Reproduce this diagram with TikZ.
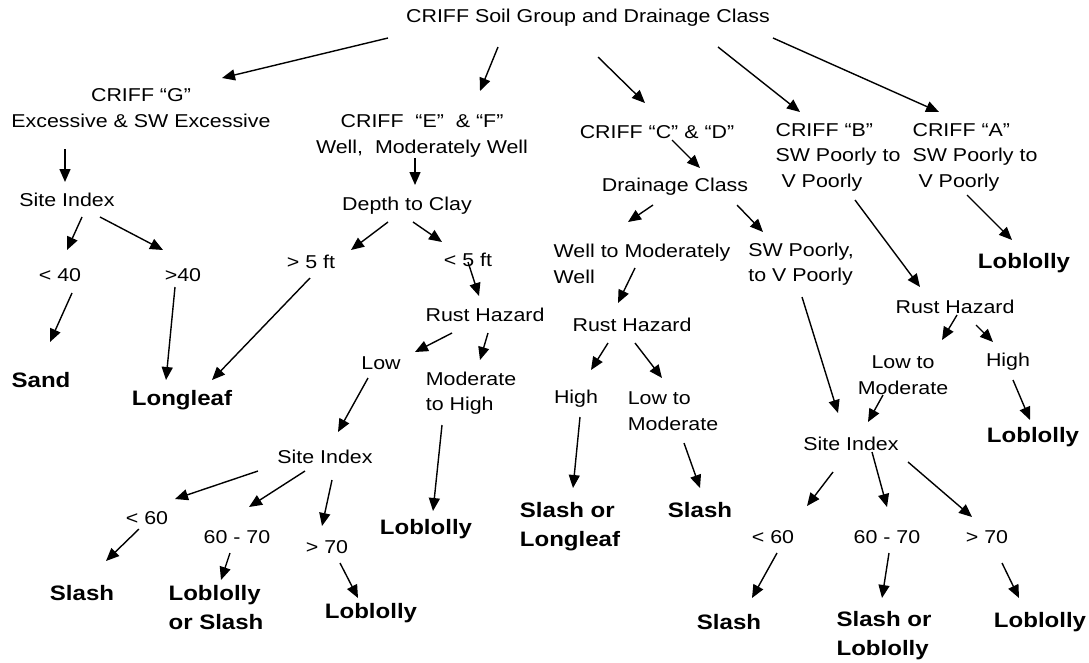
\documentclass[tikz,border=0pt]{standalone}
\usepackage{fontspec}
\setmainfont{Liberation Sans}[FakeStretch=1.15]
\usetikzlibrary{arrows.meta}

\begin{document}
\begin{tikzpicture}[x=1pt, y=-1pt,
    lbl/.style={inner sep=0pt, font=\fontsize{18.6}{25.5}\selectfont},
    res/.style={inner sep=0pt, font=\fontsize{20.9}{29}\selectfont\bfseries},
    arr/.style={-{Triangle[length=13pt,width=11pt]}, line width=1.4pt}]

        \useasboundingbox (0,0) rectangle (1089,662);

        \node[lbl] (root) at (588,18) {CRIFF Soil Group and Drainage Class};
        \node[lbl, align=center] (G) at (141,108) {CRIFF “G”\\Excessive \& SW Excessive};
        \node[lbl, align=center] (EF) at (422,136) {CRIFF~ “E”~ \& “F”\\Well,~ Moderately Well};
        \node[lbl] (CD) at (657,132) {CRIFF “C” \& “D”};
        \node[lbl, align=left] (B) at (838,157) {CRIFF “B”\\SW Poorly to\\\ V Poorly};
        \node[lbl, align=left] (A) at (975,157) {CRIFF “A”\\SW Poorly to\\\ V Poorly};

        \node[lbl] (siteG) at (67,200) {Site Index};
        \node[lbl] (depth) at (407,206) {Depth to Clay};
        \node[lbl] (drain) at (675,187) {Drainage Class};
        \node[lbl] (lt40) at (60,275) {< 40};
        \node[lbl] (gt40) at (183,275) {>40};
        \node[lbl] (gt5) at (311,262) {> 5 ft};
        \node[lbl] (lt5) at (468,260) {< 5 ft};
        \node[lbl, align=left] (wellmod) at (642,264) {Well to Moderately\\Well};
        \node[lbl, align=left] (swpoor) at (801,264) {SW Poorly,\\to V Poorly};
        \node[res] (sand) at (41,380) {Sand};
        \node[res] (longleaf) at (182,400) {Longleaf};
        \node[lbl] (rustE) at (485,315) {Rust Hazard};
        \node[lbl] (rustC) at (632,325) {Rust Hazard};
        \node[lbl] (rustB) at (955,307) {Rust Hazard};
        \node[res] (lobA) at (1024,263) {Loblolly};
        \node[lbl] (low) at (381,363) {Low};
        \node[lbl, align=left] (modhigh) at (471,393) {Moderate\\to High};
        \node[lbl] (highC) at (576,399) {High};
        \node[lbl, align=left] (lowmodC) at (673,411) {Low to\\Moderate};
        \node[lbl, align=center] (lowmodB) at (903,375) {Low to\\Moderate};
        \node[lbl] (highB) at (1008,362) {High};
        \node[res] (lobB) at (1033,437) {Loblolly};
        \node[lbl] (siteE) at (325,457) {Site Index};
        \node[lbl] (siteB) at (851,444) {Site Index};
        \node[res] (lobMH) at (426,529) {Loblolly};
        \node[res, align=left] (slashlong) at (570,527) {Slash or\\Longleaf};
        \node[res] (slashC) at (700,510) {Slash};
        \node[lbl] (lt60E) at (147,518) {< 60};
        \node[lbl] (m6070E) at (237,537) {60 - 70};
        \node[lbl] (gt70E) at (327,547) {> 70};
        \node[res] (slashE) at (82,593) {Slash};
        \node[res, align=left] (lobslash) at (216,608) {Loblolly\\or Slash};
        \node[res] (lobE) at (371,613) {Loblolly};
        \node[lbl] (lt60B) at (773,537) {< 60};
        \node[lbl] (m6070B) at (887,537) {60 - 70};
        \node[lbl] (gt70B) at (987,537) {> 70};
        \node[res] (slashB) at (729,622) {Slash};
        \node[res, align=left] (slashlob) at (884,636) {Slash or\\Loblolly};
        \node[res] (lobB2) at (1040,622) {Loblolly};

        % soil groups
        \draw[arr] ([shift={(-200,20)}]root.center) -- ([shift={(81,-30)}]G.center);
        \draw[arr] ([shift={(-90,29)}]root.center) -- ([shift={(58,-45)}]EF.center);
        \draw[arr] ([shift={(10,39)}]root.center) -- ([shift={(-12,-29)}]CD.center);
        \draw[arr] ([shift={(130,29)}]root.center) -- ([shift={(-38,-45)}]B.center);
        \draw[arr] ([shift={(185,20)}]root.center) -- ([shift={(-36,-45)}]A.center);

        % CRIFF G
        \draw[arr] ([shift={(-76,41)}]G.center) -- ([shift={(-2,-18)}]siteG.center);
        \draw[arr] ([shift={(15,17)}]siteG.center) -- ([shift={(7,-25)}]lt40.center);
        \draw[arr] ([shift={(33,17)}]siteG.center) -- ([shift={(-20,-25)}]gt40.center);
        \draw[arr] ([shift={(12,18)}]lt40.center) -- ([shift={(9,-38)}]sand.center);
        \draw[arr] ([shift={(-8,12)}]gt40.center) -- ([shift={(-16,-20)}]longleaf.center);

        % CRIFF E and F
        \draw[arr] ([shift={(-7,22)}]EF.center) -- ([shift={(8,-21)}]depth.center);
        \draw[arr] ([shift={(-19,16)}]depth.center) -- ([shift={(40,-12)}]gt5.center);
        \draw[arr] ([shift={(6,16)}]depth.center) -- ([shift={(-26,-18)}]lt5.center);
        \draw[arr] ([shift={(-1,16)}]gt5.center) -- ([shift={(30,-20)}]longleaf.center);
        \draw[arr] ([shift={(0,2)}]lt5.center) -- ([shift={(-6,-19)}]rustE.center);
        \draw[arr] ([shift={(-33,18)}]rustE.center) -- ([shift={(34,-11)}]low.center);
        \draw[arr] ([shift={(3,18)}]rustE.center) -- ([shift={(9,-33)}]modhigh.center);
        \draw[arr] ([shift={(-29,32)}]modhigh.center) -- ([shift={(7,-18)}]lobMH.center);
        \draw[arr] ([shift={(-13,15)}]low.center) -- ([shift={(13,-25)}]siteE.center);
        \draw[arr] ([shift={(-67,14)}]siteE.center) -- ([shift={(28,-19)}]lt60E.center);
        \draw[arr] ([shift={(-20,14)}]siteE.center) -- ([shift={(12,-30)}]m6070E.center);
        \draw[arr] ([shift={(7,23)}]siteE.center) -- ([shift={(-5,-21)}]gt70E.center);
        \draw[arr] ([shift={(-8,11)}]lt60E.center) -- ([shift={(24,-32)}]slashE.center);
        \draw[arr] ([shift={(-7,16)}]m6070E.center) -- ([shift={(5,-28)}]lobslash.center);
        \draw[arr] ([shift={(13,16)}]gt70E.center) -- ([shift={(-13,-15)}]lobE.center);

        % CRIFF C and D
        \draw[arr] ([shift={(15,8)}]CD.center) -- ([shift={(25,-19)}]drain.center);
        \draw[arr] ([shift={(-22,18)}]drain.center) -- ([shift={(-14,-42)}]wellmod.center);
        \draw[arr] ([shift={(62,18)}]drain.center) -- ([shift={(-38,-32)}]swpoor.center);
        \draw[arr] ([shift={(-7,4)}]wellmod.center) -- ([shift={(-14,-22)}]rustC.center);
        \draw[arr] ([shift={(-24,18)}]rustC.center) -- ([shift={(15,-29)}]highC.center);
        \draw[arr] ([shift={(3,18)}]rustC.center) -- ([shift={(-11,-33)}]lowmodC.center);
        \draw[arr] ([shift={(4,18)}]highC.center) -- ([shift={(3,-39)}]slashlong.center);
        \draw[arr] ([shift={(11,32)}]lowmodC.center) -- ([shift={(0,-22)}]slashC.center);
        \draw[arr] ([shift={(1,33)}]swpoor.center) -- ([shift={(-13,-31)}]siteB.center);

        % CRIFF B and A
        \draw[arr] ([shift={(17,43)}]B.center) -- ([shift={(-35,-20)}]rustB.center);
        \draw[arr] ([shift={(-8,38)}]A.center) -- ([shift={(-12,-23)}]lobA.center);
        \draw[arr] ([shift={(2,8)}]rustB.center) -- ([shift={(39,-35)}]lowmodB.center);
        \draw[arr] ([shift={(21,18)}]rustB.center) -- ([shift={(-15,-20)}]highB.center);
        \draw[arr] ([shift={(5,18)}]highB.center) -- ([shift={(-3,-17)}]lobB.center);
        \draw[arr] ([shift={(-20,20)}]lowmodB.center) -- ([shift={(17,-22)}]siteB.center);
        \draw[arr] ([shift={(-18,28)}]siteB.center) -- ([shift={(34,-31)}]lt60B.center);
        \draw[arr] ([shift={(21,8)}]siteB.center) -- ([shift={(0,-30)}]m6070B.center);
        \draw[arr] ([shift={(57,18)}]siteB.center) -- ([shift={(-15,-20)}]gt70B.center);
        \draw[arr] ([shift={(4,16)}]lt60B.center) -- ([shift={(23,-24)}]slashB.center);
        \draw[arr] ([shift={(2,16)}]m6070B.center) -- ([shift={(-2,-38)}]slashlob.center);
        \draw[arr] ([shift={(15,26)}]gt70B.center) -- ([shift={(-21,-24)}]lobB2.center);

\end{tikzpicture}
\end{document}
